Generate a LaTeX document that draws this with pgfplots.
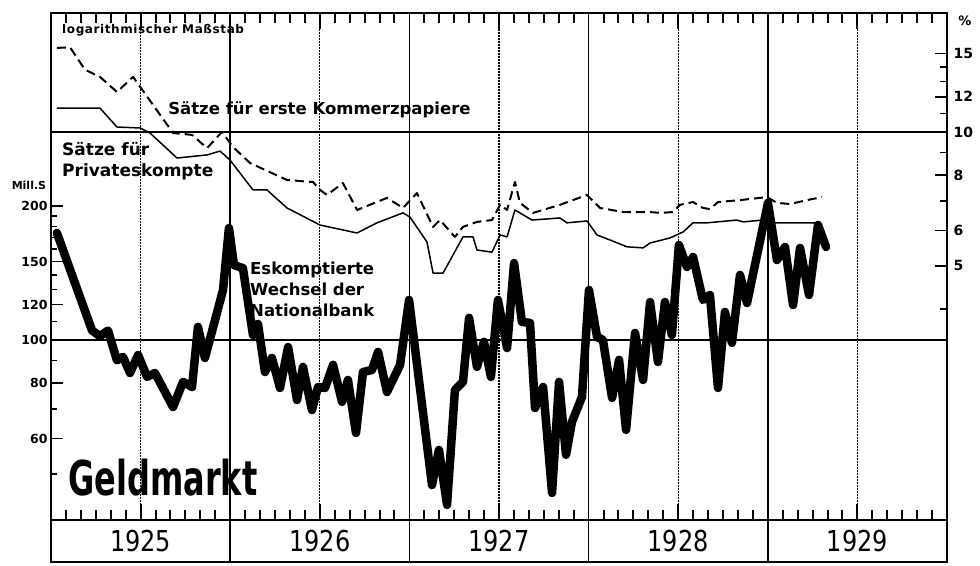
\documentclass[border=0pt]{standalone}
\usepackage{pgfplots}
\pgfplotsset{compat=1.18}
\usepackage{fontspec}
\setmainfont{DejaVu Sans}

\pgfplotstableread{
yr val
1925.033 174
1925.229 105
1925.273 102
1925.318 105
1925.368 90
1925.402 91.6
1925.441 84.3
1925.486 92.5
1925.536 82.6
1925.580 84.3
1925.681 70.7
1925.737 80.5
1925.787 78.4
1925.820 107
1925.859 91.1
1925.960 129.5
1925.993 178.5
1926.021 147.4
1926.071 145
1926.127 102.6
1926.155 108.6
1926.194 84.7
1926.233 91.1
1926.278 78.0
1926.323 96.4
1926.373 73.3
1926.406 87.0
1926.456 69.6
1926.490 78.4
1926.529 78.0
1926.574 87.9
1926.624 72.6
1926.657 81.3
1926.702 61.8
1926.741 84.7
1926.791 85.6
1926.825 94.0
1926.875 76.4
1926.948 87.9
1926.998 123
1927.126 47.2
1927.165 56.6
1927.210 42.6
1927.254 77.2
1927.299 80.5
1927.333 112.1
1927.377 87.0
1927.416 99.0
1927.455 82.6
1927.494 123
1927.545 95.9
1927.584 148.9
1927.628 109.8
1927.673 109.2
1927.701 70.3
1927.746 78.4
1927.796 45.3
1927.835 80.5
1927.874 55.2
1927.907 65.4
1927.963 74.5
1928.002 129.5
1928.047 101.6
1928.080 100
1928.131 74.1
1928.170 90.2
1928.209 62.8
1928.259 103.7
1928.304 81.3
1928.343 121.7
1928.387 89.2
1928.426 121.7
1928.465 102.6
1928.504 163.5
1928.549 145.9
1928.583 153.6
1928.638 123
1928.677 126.2
1928.722 78.0
1928.761 115.6
1928.800 98.5
1928.845 140.0
1928.884 121.1
1929.001 203.2
1929.051 151.2
1929.096 161.8
1929.141 119.8
1929.180 161.0
1929.230 126.2
1929.280 181.3
1929.325 161.8
}\wechsel

\pgfplotstableread{
yr val
1925.033 15.45
1925.106 15.5
1925.190 13.8
1925.273 13.3
1925.368 12.3
1925.458 13.3
1925.681 9.95
1925.787 9.85
1925.871 9.2
1925.954 10.0
1926.016 9.25
1926.110 8.52
1926.317 7.80
1926.462 7.72
1926.501 7.41
1926.540 7.22
1926.629 7.68
1926.708 6.68
1926.875 7.11
1926.964 6.75
1927.042 7.29
1927.132 6.12
1927.171 6.34
1927.254 5.81
1927.299 6.12
1927.377 6.28
1927.461 6.34
1927.506 6.86
1927.545 6.68
1927.589 7.72
1927.617 6.93
1927.690 6.58
1927.840 6.86
1927.991 7.22
1928.064 6.75
1928.192 6.61
1928.331 6.61
1928.410 6.58
1928.471 6.61
1928.510 6.86
1928.583 6.96
1928.638 6.75
1928.677 6.71
1928.722 6.96
1928.845 7.03
1928.996 7.14
1929.051 6.93
1929.124 6.89
1929.219 7.03
1929.302 7.14
}\kommerz

\pgfplotstableread{
yr val
1925.033 11.32
1925.273 11.32
1925.368 10.26
1925.497 10.21
1925.552 9.95
1925.703 8.74
1925.871 8.88
1925.943 9.06
1925.999 8.65
1926.127 7.41
1926.205 7.41
1926.317 6.75
1926.501 6.18
1926.708 5.93
1926.819 6.25
1926.964 6.58
1927.003 6.44
1927.098 5.66
1927.132 4.82
1927.188 4.82
1927.299 5.81
1927.355 5.81
1927.377 5.43
1927.461 5.37
1927.506 5.87
1927.545 5.81
1927.589 6.68
1927.684 6.34
1927.840 6.41
1927.879 6.25
1927.991 6.31
1928.047 5.87
1928.119 5.72
1928.214 5.52
1928.304 5.49
1928.343 5.63
1928.454 5.78
1928.527 5.96
1928.583 6.25
1928.661 6.25
1928.828 6.34
1928.862 6.28
1928.973 6.34
1929.012 6.25
1929.291 6.25
}\privat

% month tick marks (length in pt)
\pgfplotstableread{
m len
1925.0833 10
1925.1667 10
1925.25 10
1925.3333 10
1925.4167 10
1925.5 16
1925.5833 10
1925.6667 10
1925.75 10
1925.8333 10
1925.9167 10
1926.0833 10
1926.1667 10
1926.25 10
1926.3333 10
1926.4167 10
1926.5 16
1926.5833 10
1926.6667 10
1926.75 10
1926.8333 10
1926.9167 10
1927.0833 10
1927.1667 10
1927.25 10
1927.3333 10
1927.4167 10
1927.5 16
1927.5833 10
1927.6667 10
1927.75 10
1927.8333 10
1927.9167 10
1928.0833 10
1928.1667 10
1928.25 10
1928.3333 10
1928.4167 10
1928.5 16
1928.5833 10
1928.6667 10
1928.75 10
1928.8333 10
1928.9167 10
1929.0833 10
1929.1667 10
1929.25 10
1929.3333 10
1929.4167 10
1929.5 16
1929.5833 10
1929.6667 10
1929.75 10
1929.8333 10
1929.9167 10
}\months

\begin{document}
\begin{tikzpicture}
\path[use as bounding box] (0,0) rectangle (980pt,565pt);

% month ticks, bottom edge
\begin{axis}[
  at={(51pt,45pt)}, anchor=south west,
  scale only axis, width=896pt, height=507pt,
  xmin=1925, xmax=1930, ymin=0, ymax=507,
  axis lines=none, ticks=none,
]
\addplot+[ycomb, black, solid, line width=2pt, mark=none] table[x=m, y=len] {\months};
\end{axis}
% month ticks, top edge
\begin{axis}[
  at={(51pt,45pt)}, anchor=south west,
  scale only axis, width=896pt, height=507pt,
  xmin=1925, xmax=1930, ymin=0, ymax=507, y dir=reverse,
  axis lines=none, ticks=none,
]
\addplot+[ycomb, black, solid, line width=2pt, mark=none] table[x=m, y=len] {\months};
\end{axis}

% percent scale (right)
\begin{axis}[
  at={(51pt,45pt)}, anchor=south west,
  scale only axis, width=896pt, height=507pt,
  xmin=1925, xmax=1930,
  ymode=log, ymin=1.343, ymax=18.51,
  axis x line=none,
  axis y line*=right,
  axis line style={line width=2.5pt, -},
  ytick={5,6,8,10,12,15},
  yticklabels={5,6,8,10,12,15},
  minor ytick={4,7,9,11,13,14},
  tick align=inside,
  major tick length=12pt, minor tick length=7pt,
  every tick/.style={black, line width=1.5pt},
  yticklabel style={font=\bfseries\fontsize{14}{14}\selectfont, xshift=3pt},
  extra y ticks={10}, extra y tick labels={},
  extra y tick style={ymajorgrids=true, major grid style={black, line width=1.5pt}},
  clip=false,
]
\addplot[black, line width=2pt, dash pattern=on 9pt off 5pt, line join=round] table[x=yr, y=val] {\kommerz};
\addplot[black, line width=1.5pt, line join=round] table[x=yr, y=val] {\privat};
\node[font=\bfseries\fontsize{13}{13}\selectfont] at (rel axis cs:1.0201,0.984) {\%};
\end{axis}

% main scale (left, Mill. S)
\begin{axis}[
  at={(51pt,45pt)}, anchor=south west,
  scale only axis, width=896pt, height=507pt,
  xmin=1925, xmax=1930,
  ymode=log, ymin=39.4, ymax=543,
  axis line style={line width=2.5pt},
  xtick={1925,1926,1927,1928,1929,1930}, xticklabels={},
  ytick pos=left,
  ytick={60,80,100,120,150,200},
  yticklabels={60,80,100,120,150,200},
  minor ytick={50,70,90,110,130,140,160,170,180,190},
  tick align=inside,
  major tick length=12pt, minor tick length=6pt,
  every tick/.style={black, line width=1.5pt},
  yticklabel style={font=\bfseries\fontsize{12.5}{12.5}\selectfont},
  xmajorgrids=true,
  major grid style={black, line width=1.5pt},
  extra x ticks={1925.5,1926.5,1927.5,1928.5,1929.5}, extra x tick labels={},
  extra x tick style={xmajorgrids=true, major grid style={black, line width=1.2pt, dash pattern=on 1.5pt off 1.5pt}},
  extra y ticks={100}, extra y tick labels={},
  extra y tick style={ymajorgrids=true, major grid style={black, line width=1.5pt}},
  clip=false,
]
\addplot[black, line width=8.5pt, line join=round, line cap=round] table[x=yr, y=val] {\wechsel};

\node[anchor=west, inner sep=0pt, font=\bfseries\fontsize{12}{12}\selectfont\addfontfeature{LetterSpace=5}] at (rel axis cs:0.0123,0.9665) {logarithmischer Maßstab};
\node[anchor=west, font=\bfseries\fontsize{16.5}{16.5}\selectfont] at (rel axis cs:0.127,0.8087) {Sätze für erste Kommerzpapiere};
\node[anchor=west, align=left, font=\bfseries\fontsize{17}{21}\selectfont, inner sep=0pt] at (rel axis cs:0.0123,0.708) {Sätze für\\Privateskompte};
\node[anchor=west, align=left, font=\bfseries\fontsize{16.5}{21}\selectfont, inner sep=0pt] at (rel axis cs:0.2221,0.4556) {Eskomptierte\\Wechsel der\\Nationalbank};
\node[anchor=west, inner sep=0pt] at (rel axis cs:0.019,0.083) {\scalebox{1}[1.5]{\bfseries\fontsize{32}{32}\selectfont Geldmarkt}};
\node[font=\bfseries\fontsize{11}{11}\selectfont] at (rel axis cs:-0.0246,0.6607) {Mill.S};
\end{axis}

% year row
\begin{axis}[
  at={(51pt,3pt)}, anchor=south west,
  scale only axis, width=896pt, height=42pt,
  xmin=1925, xmax=1930, ymin=0, ymax=1,
  xtick={1926,1927,1928,1929}, xticklabels={},
  ytick=\empty,
  major tick length=0pt,
  xmajorgrids=true,
  major grid style={black, line width=1.5pt},
  axis line style={line width=2pt},
]
\node at (axis cs:1925.5,0.5) {\scalebox{1}[1.2]{\fontsize{24}{24}\selectfont 1925}};
\node at (axis cs:1926.5,0.5) {\scalebox{1}[1.2]{\fontsize{24}{24}\selectfont 1926}};
\node at (axis cs:1927.5,0.5) {\scalebox{1}[1.2]{\fontsize{24}{24}\selectfont 1927}};
\node at (axis cs:1928.5,0.5) {\scalebox{1}[1.2]{\fontsize{24}{24}\selectfont 1928}};
\node at (axis cs:1929.5,0.5) {\scalebox{1}[1.2]{\fontsize{24}{24}\selectfont 1929}};
\end{axis}
\end{tikzpicture}
\end{document}
